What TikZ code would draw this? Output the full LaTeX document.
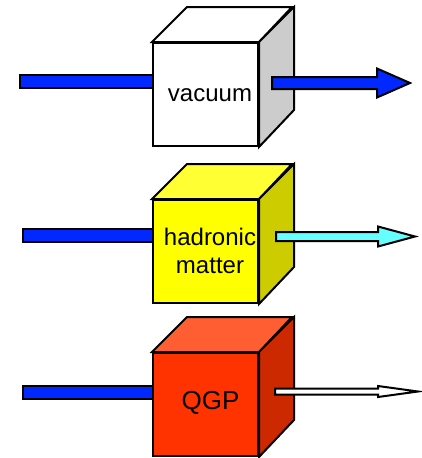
\documentclass[tikz,border=0pt]{standalone}
\usepackage{fontspec}
\setmainfont{Liberation Sans}
\definecolor{barblue}{RGB}{0,40,255}
\definecolor{sidegray}{RGB}{204,204,204}
\definecolor{yfront}{RGB}{255,255,0}
\definecolor{ytop}{RGB}{255,255,51}
\definecolor{yside}{RGB}{204,204,0}
\definecolor{rfront}{RGB}{255,51,0}
\definecolor{rtop}{RGB}{255,94,51}
\definecolor{rside}{RGB}{204,41,0}
\definecolor{cyanarrow}{RGB}{102,255,255}
\tikzset{
  outl/.style={draw=black, line width=2pt, line join=miter},
  face/.style={outl, rectangle, minimum width=105pt, minimum height=103pt, inner sep=0pt},
  lab/.style={font=\fontsize{24}{28}\selectfont, align=center, inner sep=0pt},
  bar/.style={outl, fill=barblue}
}
\newcommand{\mycube}[5]{% name, center, front, top, side
  \node[face, fill=#3] (#1) at (#2) {};
  \draw[outl, fill=#4] (#1.north west) -- ++(35,-35) -- ++(105,0) -- (#1.north east) -- cycle;
  \draw[outl, fill=#5] (#1.north east) -- ++(35,-35) -- ++(0,103) -- (#1.south east) -- cycle;
}
% start coordinate, head base x, tip x, shaft half, head half, colour
\newcommand{\blockarrow}[6]{%
  \draw[outl, fill=#6] ([yshift=#4pt]#1) -- ([yshift=#4pt]#1 -| #2,0) -- ([yshift=#5pt]#1 -| #2,0)
    -- (#1 -| #3,0) -- ([yshift=-#5pt]#1 -| #2,0) -- ([yshift=-#4pt]#1 -| #2,0)
    -- ([yshift=-#4pt]#1) -- cycle;
}
\begin{document}
\begin{tikzpicture}[x=1pt, y=-1pt]
\useasboundingbox (0,0) rectangle (422,458);
% row 1
\coordinate (in1) at (20,75);
\draw[bar] (in1) rectangle (153,88);
\mycube{f1}{205.5,94.5}{white}{white}{sidegray}
\node[lab] (t1) at (210,95) {vacuum};
\coordinate (out1) at (272,83);
\blockarrow{out1}{377}{410}{6}{14.5}{barblue}
% row 2
\coordinate (in2) at (23,229);
\draw[bar] (in2) rectangle (153,242);
\mycube{f2}{205.5,251.5}{yfront}{ytop}{yside}
\node[lab] (t2) at (210,250.5) {hadronic\\matter};
\coordinate (out2) at (276,236.5);
\blockarrow{out2}{378}{415}{4.5}{10}{cyanarrow}
% row 3
\coordinate (in3) at (23,386);
\draw[bar] (in3) rectangle (153,399);
\mycube{f3}{205.5,404.5}{rfront}{rtop}{rside}
\node[lab, font=\fontsize{26}{30}\selectfont] (t3) at (210.5,403) {QGP};
\coordinate (out3) at (275,391.5);
\blockarrow{out3}{378}{418}{3}{5.5}{white}
\end{tikzpicture}
\end{document}
